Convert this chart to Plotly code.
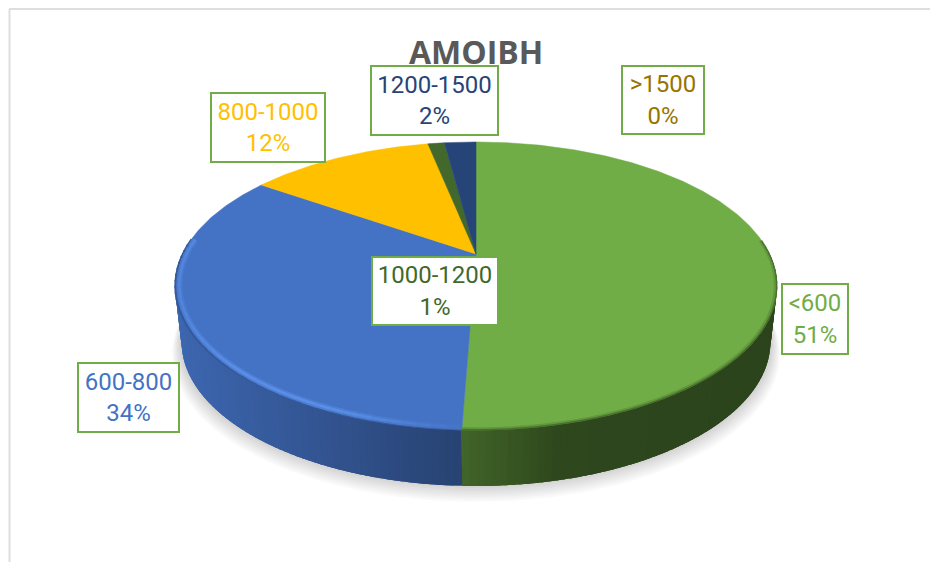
import numpy as np
import plotly.graph_objects as go

categories = ["<600", "600-800", "800-1000", "1000-1200", "1200-1500", ">1500"]
shares = [50.6, 34.0, 12.2, 1.1, 2.1, 0.0]
slice_colors = ["#70AD47", "#4472C4", "#FFC000", "#43682B", "#264478", "#997300"]
label_boxes = [(815, 319, 68, 72), (128, 397, 103, 71), (268, 127, 116, 71),
               (435, 291, 128, 70), (434, 100, 129, 71), (663, 100, 84, 70)]

CX, CY, A, B, K, DEPTH, TAPER = 476.0, 254.0, 293.5, 136.9, 0.222, 56.0, 0.978


def project(theta, r=1.0, dy=0.0, xscale=1.0):
    u, v = r * np.sin(theta), r * np.cos(theta)
    w = 1 + K * v
    return CX + xscale * A * u / w, CY - B * v / w + dy


def rgb(h):
    return np.array([int(h[i:i + 2], 16) for i in (1, 3, 5)], float)


def css(c):
    c = np.clip(np.round(c), 0, 255).astype(int)
    return f"rgb({c[0]},{c[1]},{c[2]})"


def shade(x):
    return np.interp(x, [175, 300, 463, 560, 780], [0.9, 0.76, 0.58, 0.41, 0.39])


fig = go.Figure()

# soft shadow under the disc
full = np.linspace(0, 2 * np.pi, 241)
for i in range(7):
    sx, sy = project(full, 1.0 + 0.004 * i, DEPTH + 2 + i * 1.4, xscale=0.985)
    fig.add_trace(go.Scatter(x=sx, y=sy, mode="lines", fill="toself",
                             fillcolor="rgba(0,0,0,0.025)", line=dict(width=0),
                             hoverinfo="skip", showlegend=False))

total = sum(shares)
edges = np.concatenate([[0], np.cumsum(shares) / total * 2 * np.pi])

# side wall: overlapping strips, each darkened by its position along the front
for i, color in enumerate(slice_colors):
    lo, hi = max(edges[i], np.pi / 2 - 0.03), min(edges[i + 1], 3 * np.pi / 2 + 0.03)
    if hi <= lo:
        continue
    steps = np.linspace(lo, hi, max(3, int((hi - lo) / 0.02)))
    for j in range(len(steps) - 1):
        a, b = steps[j], min(steps[j] + 0.05, hi)
        t = np.linspace(a, b, 5)
        x1, y1 = project(t)
        x2, y2 = project(t[::-1], dy=DEPTH, xscale=TAPER)
        c = css(rgb(color) * shade(project(steps[j] + 0.01)[0]))
        fig.add_trace(go.Scatter(x=np.r_[x1, x2, x1[0]], y=np.r_[y1, y2, y1[0]],
                                 mode="none", fill="toself", fillcolor=c,
                                 hoverinfo="skip", showlegend=False))

# top face
for i, color in enumerate(slice_colors):
    if shares[i] <= 0:
        continue
    t = np.linspace(edges[i], edges[i + 1], max(3, int((edges[i + 1] - edges[i]) / 0.01)))
    x, y = project(t)
    fig.add_trace(go.Scatter(x=np.r_[CX, x, CX], y=np.r_[CY, y, CY], mode="lines",
                             fill="toself", fillcolor=color,
                             line=dict(width=0.5, color=color),
                             hoverinfo="skip", showlegend=False))

# soft bevel along the front rim
for i in (0, 1):
    lo, hi = max(edges[i], np.pi / 2 - 0.1), min(edges[i + 1], 3 * np.pi / 2 + 0.1)
    steps = np.linspace(lo, hi, max(3, int((hi - lo) / 0.04)))
    base = rgb(slice_colors[i])
    for a, b in zip(steps[:-1], steps[1:]):
        t = np.linspace(a, b + 0.01, 3)
        xo, yo = project(t, 0.999)
        xs, ys = project(t, 0.994)
        if i == 1:
            x, y = project(t, 0.986)
            fade = np.interp(x.mean(), [175, 230, 340, 450], [0.55, 0.9, 0.9, 0.1])
            light = rgb("#5C92EC")
            wide = css(base * (1 - fade * 0.45) + light * fade * 0.45)
            thin = css(base * (1 - fade) + light * fade)
            fig.add_trace(go.Scatter(x=xo, y=yo, mode="lines",
                                     line=dict(width=2, color=css(base * 0.78)),
                                     hoverinfo="skip", showlegend=False))
            fig.add_trace(go.Scatter(x=x, y=y, mode="lines", line=dict(width=6, color=wide),
                                     hoverinfo="skip", showlegend=False))
            fig.add_trace(go.Scatter(x=x, y=y, mode="lines", line=dict(width=2.5, color=thin),
                                     hoverinfo="skip", showlegend=False))
        else:
            fig.add_trace(go.Scatter(x=xs, y=ys, mode="lines",
                                     line=dict(width=2.5, color=css(base * 0.88)),
                                     hoverinfo="skip", showlegend=False))
            fig.add_trace(go.Scatter(x=xo, y=yo, mode="lines",
                                     line=dict(width=1.5, color=css(base * 0.65)),
                                     hoverinfo="skip", showlegend=False))

annotations = [dict(x=476, y=51, xref="x", yref="y", text="<b>ΑΜΟΙΒΗ</b>", showarrow=False,
                    font=dict(family="Open Sans", size=32, color="#595959"))]
pct = [f"{round(s / total * 100)}%" for s in shares]
for cat, p, col, (bx, by, bw, bh) in zip(categories, pct, slice_colors, label_boxes):
    annotations.append(dict(
        x=bx, y=by, xref="x", yref="y", showarrow=False,
        text=f"{cat.replace('<', '&lt;').replace('>', '&gt;')}<br>{p}",
        width=bw - 4, height=bh - 4, borderpad=0, borderwidth=2,
        bordercolor="#70AD47", bgcolor="#FFFFFF", align="center", valign="middle",
        font=dict(family="Roboto", size=24, color=col)))

shapes = [
    dict(type="line", xref="x", yref="y", x0=9.5, x1=9.5, y0=9, y1=562,
         line=dict(color="#DEDEDE", width=2)),
    dict(type="line", xref="x", yref="y", x0=9, x1=930, y0=9, y1=9,
         line=dict(color="#DEDEDE", width=2)),
]

fig.update_layout(
    width=930, height=562, margin=dict(l=0, r=0, t=0, b=0),
    paper_bgcolor="#FFFFFF", plot_bgcolor="#FFFFFF", showlegend=False,
    xaxis=dict(range=[0, 930], visible=False, fixedrange=True),
    yaxis=dict(range=[562, 0], visible=False, fixedrange=True),
    annotations=annotations, shapes=shapes,
)
fig.write_html("out.html", config=dict(displayModeBar=False),
               post_script="document.body.style.margin='0';document.body.style.overflow='hidden';")
